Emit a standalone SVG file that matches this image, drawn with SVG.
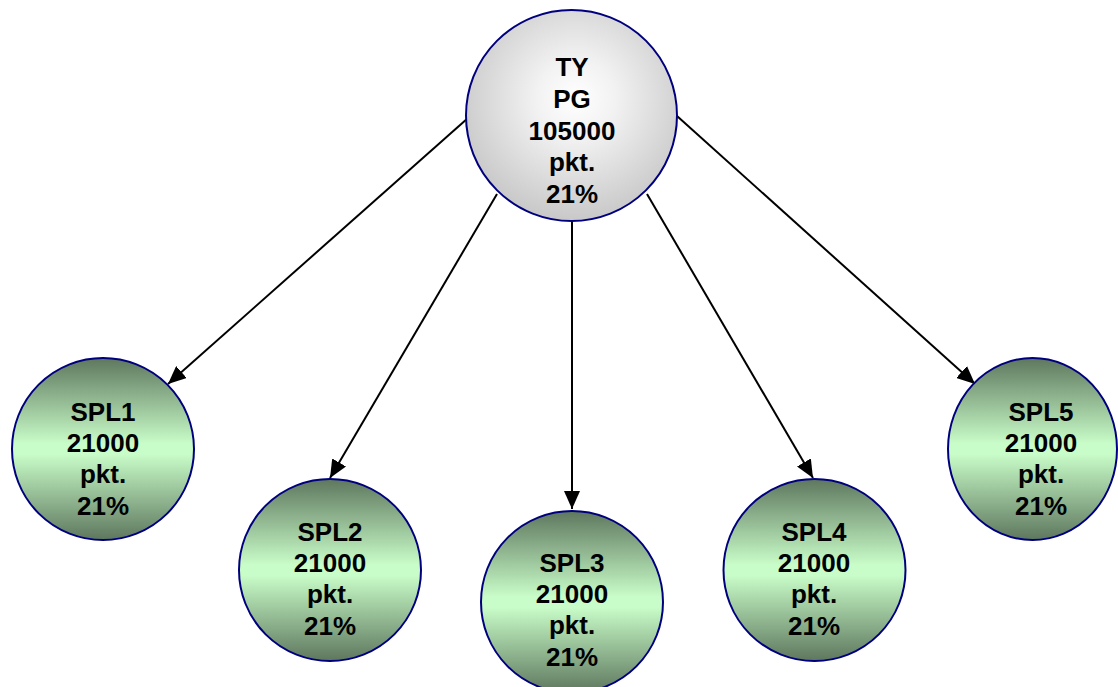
<svg xmlns="http://www.w3.org/2000/svg" width="1118" height="687" viewBox="0 0 1118 687">
<style>
  .node { stroke: #00007f; stroke-width: 2; }
  .green { fill: url(#gGreen); }
  .gray { fill: url(#gGray); }
  .lbl { font-family: "Liberation Sans", Arial, sans-serif; font-weight: bold; font-size: 26px; fill: #000; text-anchor: middle; }
  .edge { stroke: #000; stroke-width: 2; fill: none; marker-end: url(#arrow); }
</style>
<defs>
  <linearGradient id="gGreen" x1="0" y1="0" x2="0" y2="1">
    <stop offset="0" stop-color="#5e775e"/>
    <stop offset="0.47" stop-color="#c8fcc8"/>
    <stop offset="0.53" stop-color="#c8fcc8"/>
    <stop offset="1" stop-color="#5e775e"/>
  </linearGradient>
  <radialGradient id="gGray" cx="0.52" cy="0.42" r="0.62">
    <stop offset="0" stop-color="#ffffff"/>
    <stop offset="0.3" stop-color="#f2f2f2"/>
    <stop offset="1" stop-color="#c4c4c4"/>
  </radialGradient>
  <marker id="arrow" markerUnits="userSpaceOnUse" markerWidth="20" markerHeight="16" viewBox="0 0 20 16" refX="18" refY="8" orient="auto">
    <path d="M0,0 L18,8 L0,16 Z" fill="#000"/>
  </marker>
</defs>
<g id="connectors">
  <line class="edge" x1="468" y1="118" x2="168" y2="384"/>
  <line class="edge" x1="497" y1="194" x2="330" y2="478"/>
  <line class="edge" x1="572" y1="221" x2="572" y2="509"/>
  <line class="edge" x1="647" y1="194" x2="813" y2="478"/>
  <line class="edge" x1="677" y1="116" x2="975" y2="384"/>
</g>
<g id="TY">
  <circle class="node gray" cx="571.5" cy="115.5" r="105.5"/>
  <text class="lbl" x="572" y="76">TY</text>
  <text class="lbl" x="572" y="108">PG</text>
  <text class="lbl" x="572" y="140">105000</text>
  <text class="lbl" x="572" y="171">pkt.</text>
  <text class="lbl" x="572" y="203">21%</text>
</g>
<g id="SPL1">
  <circle class="node green" cx="103" cy="449" r="91"/>
  <text class="lbl" x="103" y="421">SPL1</text>
  <text class="lbl" x="103" y="452">21000</text>
  <text class="lbl" x="103" y="483">pkt.</text>
  <text class="lbl" x="103" y="515">21%</text>
</g>
<g id="SPL2">
  <circle class="node green" cx="330" cy="570" r="91"/>
  <text class="lbl" x="330" y="541">SPL2</text>
  <text class="lbl" x="330" y="572">21000</text>
  <text class="lbl" x="330" y="603">pkt.</text>
  <text class="lbl" x="330" y="635">21%</text>
</g>
<g id="SPL3">
  <circle class="node green" cx="572" cy="602" r="91"/>
  <text class="lbl" x="572" y="572">SPL3</text>
  <text class="lbl" x="572" y="603">21000</text>
  <text class="lbl" x="572" y="634">pkt.</text>
  <text class="lbl" x="572" y="666">21%</text>
</g>
<g id="SPL4">
  <circle class="node green" cx="814.5" cy="570" r="91"/>
  <text class="lbl" x="814" y="541">SPL4</text>
  <text class="lbl" x="814" y="572">21000</text>
  <text class="lbl" x="814" y="603">pkt.</text>
  <text class="lbl" x="814" y="635">21%</text>
</g>
<g id="SPL5">
  <ellipse class="node green" cx="1032.5" cy="449" rx="84.5" ry="91"/>
  <text class="lbl" x="1041" y="421">SPL5</text>
  <text class="lbl" x="1041" y="452">21000</text>
  <text class="lbl" x="1041" y="483">pkt.</text>
  <text class="lbl" x="1041" y="515">21%</text>
</g>
</svg>
